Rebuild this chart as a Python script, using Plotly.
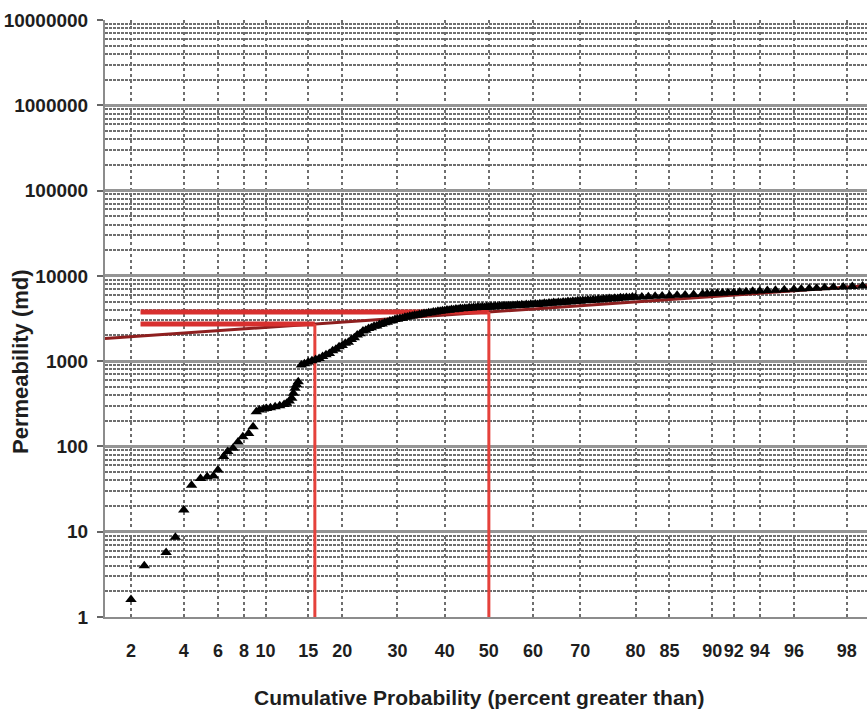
import plotly.graph_objects as go
from statistics import NormalDist

# ---------------- data ----------------
# cumulative probability (percent greater than) and permeability (md)
prob_pct = [
    2.0, 2.4, 3.2, 3.6, 4.0, 4.4, 4.9, 5.3, 5.7, 6.0, 6.4, 6.7, 7.1, 7.5, 7.9,
    8.4, 8.8, 9.1, 9.4, 9.8, 10.1, 10.5, 11.0, 11.5, 12.0, 12.3, 12.6, 12.9,
    13.1, 13.3, 13.5, 13.7, 14.1, 14.5, 15.0, 15.5,
    16, 16.5, 17, 17.5, 18, 18.5, 19, 19.5, 20, 20.5, 21, 21.5, 22, 22.5,
    23, 23.5, 24, 24.5, 25, 25.5, 26, 26.5, 27, 27.5, 28, 28.5, 29, 29.5,
    30, 30.5, 31, 31.5, 32, 32.5, 33, 33.5, 34, 34.5, 35, 35.5, 36, 36.5,
    37, 37.5, 38, 38.5, 39, 39.5, 40, 40.5, 41, 41.5, 42, 42.5, 43, 43.5,
    44, 44.5, 45, 45.5, 46, 46.5, 47, 47.5, 48, 48.5, 49, 49.5, 50,
    50.5, 51, 51.5, 52, 52.5, 53, 53.5, 54, 54.5, 55, 55.5, 56, 56.5, 57,
    57.5, 58, 58.5, 59, 59.5, 60, 60.5, 61, 61.5, 62, 62.5, 63, 63.5, 64,
    64.5, 65, 65.5, 66, 66.5, 67, 67.5, 68, 68.5, 69, 69.5, 70, 70.5, 71,
    71.5, 72, 72.5, 73, 73.5, 74, 74.5, 75, 75.5, 76, 76.5, 77, 77.5, 78,
    78.5, 79, 79.5, 80,
    81, 82, 83, 84, 85, 86, 87, 88, 89, 89.5, 90, 90.5, 91, 91.5, 92, 92.5,
    93, 93.5, 94, 94.5, 95, 95.5, 96.0, 96.35, 96.7, 97.0, 97.3, 97.6, 97.9,
    98.15, 98.4,
]
perm_md = [
    1.6, 4.0, 5.7, 8.6, 18, 35, 42, 44, 45, 53, 76, 87, 95, 113, 130,
    142, 170, 255, 268, 275, 279, 285, 292, 300, 310, 320, 340, 366,
    420, 480, 530, 573, 900, 935, 980, 1010,
    1045, 1075, 1130, 1190, 1230, 1320, 1380, 1470, 1530, 1620, 1660, 1790,
    1880, 2020, 2100, 2250, 2310, 2420, 2470, 2560, 2590, 2690, 2720, 2820,
    2850, 2950, 2980, 3080, 3090, 3170, 3180, 3270, 3290, 3370, 3380, 3450,
    3460, 3530, 3540, 3610, 3620, 3690, 3700, 3770, 3770, 3850, 3840, 3910,
    3900, 3970, 3960, 4030, 4010, 4090, 4060, 4140, 4110, 4180, 4150, 4230,
    4190, 4260, 4220, 4300, 4250, 4320, 4270, 4340, 4290,
    4360, 4310, 4390, 4340, 4420, 4370, 4450, 4400, 4470, 4420, 4500, 4450,
    4540, 4480, 4570, 4520, 4610, 4560, 4650, 4600, 4680, 4630, 4720, 4670,
    4760, 4710, 4810, 4760, 4860, 4810, 4900, 4850, 4950, 4900, 5000, 4950,
    5050, 5000, 5100, 5050, 5150, 5100, 5200, 5150, 5250, 5200, 5300, 5250,
    5360, 5310, 5420, 5370, 5480, 5430, 5530, 5490, 5590, 5540, 5640, 5600,
    5650, 5700, 5750, 5800, 5860, 5920, 5980, 6050, 6110, 6150, 6200, 6240,
    6300, 6350, 6400, 6450, 6520, 6580, 6650, 6720, 6800, 6880, 6950, 7020,
    7100, 7150, 7230, 7330, 7420, 7500, 7600,
]

# Dykstra-Parsons construction lines
k50_md = 3770          # permeability at 50 %
k84_md = 2720          # permeability at 15.9 % (84.1 % exceeded)
p50_pct = 50.0
p84_pct = 15.9
hline_start_pct = 2.28
trend_pct = [1.38, 98.5]
trend_md = [1840, 7650]

# axis ticks
x_tick_pct = [2, 4, 6, 8, 10, 15, 20, 30, 40, 50, 60, 70, 80, 85, 90, 92, 94, 96, 98]
x_tick_text = [str(v) for v in x_tick_pct]
y_tick_vals = [1, 10, 100, 1000, 10000, 100000, 1000000, 10000000]
y_tick_text = ["1", "10", "100", "1000", "10000", "100000", "1000000", "10000000"]
y_minor_vals = [m * 10 ** e for e in range(0, 7) for m in range(2, 10)]

x_range_pct = [1.38, 98.5]

# ---------------- probability-scale transform ----------------
nd = NormalDist()


def zq(p):
    return nd.inv_cdf(p / 100.0)


FONT = "Liberation Sans, Arial, sans-serif"
TXT = "#1e1e1e"

fig = go.Figure()

# trend line (dark red)
fig.add_trace(go.Scatter(
    x=[zq(p) for p in trend_pct], y=trend_md, mode="lines",
    line=dict(color="#8e1f1f", width=3), hoverinfo="skip", showlegend=False))

# horizontal construction lines
fig.add_trace(go.Scatter(
    x=[zq(hline_start_pct), zq(p50_pct)], y=[k50_md, k50_md], mode="lines",
    line=dict(color="#d8302f", width=5), hoverinfo="skip", showlegend=False))
fig.add_trace(go.Scatter(
    x=[zq(hline_start_pct), zq(p84_pct)], y=[k84_md, k84_md], mode="lines",
    line=dict(color="#d8302f", width=5), hoverinfo="skip", showlegend=False))

# vertical construction lines
fig.add_trace(go.Scatter(
    x=[zq(p50_pct), zq(p50_pct)], y=[1, k50_md], mode="lines",
    line=dict(color="#e5413b", width=3), hoverinfo="skip", showlegend=False))
fig.add_trace(go.Scatter(
    x=[zq(p84_pct), zq(p84_pct)], y=[1, k84_md], mode="lines",
    line=dict(color="#e5413b", width=3), hoverinfo="skip", showlegend=False))

# data points
fig.add_trace(go.Scatter(
    x=[zq(p) for p in prob_pct], y=perm_md, mode="markers",
    marker=dict(symbol="triangle-up", size=10, color="black", line=dict(width=0)),
    showlegend=False))

fig.update_layout(
    width=867, height=714,
    margin=dict(l=105, r=0, t=20, b=97),
    paper_bgcolor="white", plot_bgcolor="white",
    font=dict(family=FONT, color=TXT),
    xaxis=dict(
        range=[zq(x_range_pct[0]), zq(x_range_pct[1])],
        tickmode="array",
        tickvals=[zq(p) for p in x_tick_pct],
        ticktext=x_tick_text, tickangle=0,
        tickfont=dict(family=FONT, size=18, color=TXT, weight="bold"),
        ticks="", ticklabelstandoff=16,
        showgrid=True, gridcolor="#6e6e6e", gridwidth=1.5, griddash="dot",
        showline=True, linecolor="#8c8c8c", linewidth=2,
        zeroline=False, automargin=False,
    ),
    yaxis=dict(
        type="log", range=[0, 7],
        tickmode="array", tickvals=y_tick_vals, ticktext=y_tick_text,
        tickfont=dict(family=FONT, size=19, color=TXT, weight="bold"),
        ticks="outside", ticklen=6, tickcolor="#666666", tickwidth=1.5,
        ticklabelstandoff=5,
        showgrid=True, gridcolor="#959595", gridwidth=2.5,
        showline=True, linecolor="#8c8c8c", linewidth=2,
        zeroline=False, automargin=False,
        minor=dict(tickmode="array", tickvals=y_minor_vals, showgrid=True,
                   gridcolor="#6e6e6e", gridwidth=2, griddash="3px,1px", ticks=""),
    ),
    annotations=[
        dict(text="Cumulative Probability (percent greater than)",
             xref="paper", yref="paper", x=(479 - 105) / 762, y=-(697 - 617) / 597,
             xanchor="center", yanchor="middle", showarrow=False,
             font=dict(family=FONT, size=21, color=TXT, weight="bold")),
        dict(text="Permeability (md)", textangle=-90,
             xref="paper", yref="paper", x=-(105 - 20) / 762, y=(617 - 362) / 597,
             xanchor="center", yanchor="middle", showarrow=False,
             font=dict(family=FONT, size=22, color=TXT, weight="bold")),
    ],
)

fig.write_html("out.html", config={"displayModeBar": False},
               post_script="document.body.style.margin='0px';")
